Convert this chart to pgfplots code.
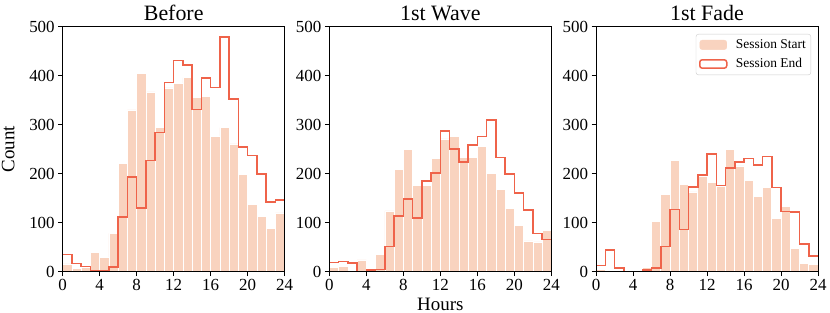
\documentclass[border=0pt]{standalone}
\usepackage{fontspec}
\setmainfont{Liberation Serif}
\usepackage{pgfplots}
\usepackage{pgfplotstable}
\pgfplotsset{compat=1.18}
\definecolor{startc}{RGB}{249,211,191}
\definecolor{endc}{RGB}{239,99,74}

% columns: hour, session start count, session end count (last row repeats bin 23 to close the step)
\pgfplotstableread{
h s e
0 16 35
1 6 17
2 9 11
3 40 1
4 29 1
5 78 10
6 221 112
7 330 193
8 405 130
9 367 227
10 295 284
11 375 386
12 385 431
13 396 422
14 356 331
15 358 395
16 276 376
17 294 479
18 261 352
19 199 254
20 138 237
21 113 199
22 88 142
23 120 146
24 120 146
}\before
\pgfplotstableread{
h s e
0 8 19
1 10 21
2 3 18
3 24 0
4 4 3
5 36 4
6 124 51
7 208 114
8 250 148
9 176 110
10 176 185
11 231 201
12 271 287
13 276 250
14 234 224
15 233 259
16 255 276
17 201 310
18 168 233
19 129 199
20 95 161
21 63 126
22 61 78
23 85 66
24 85 66
}\wave
\pgfplotstableread{
h s e
0 4 13
1 0 44
2 0 8
3 0 0
4 1 0
5 9 3
6 102 8
7 158 51
8 227 127
9 178 86
10 163 173
11 194 197
12 182 240
13 175 176
14 250 212
15 216 224
16 187 231
17 154 218
18 172 235
19 109 172
20 134 123
21 48 122
22 17 57
23 15 32
24 15 32
}\fade

\pgfplotsset{
  hist/.style={
    scale only axis, width=222bp, height=245bp,
    anchor=south west,
    xmin=0, xmax=24, ymin=0, ymax=500,
    xtick={0,4,...,24}, ytick={0,100,...,500},
    tick align=outside, major tick length=4.5bp,
    xtick pos=bottom, ytick pos=left,
    axis line style={line width=0.9bp, black},
    every tick/.style={black, line width=0.9bp},
    tick label style={font=\fontsize{17}{20}\selectfont},
    /pgf/number format/assume math mode=true,
    every axis title/.style={font=\fontsize{22}{26}\selectfont, at={(axis description cs:0.5,1)}, anchor=base, yshift=6.5bp},
    axis on top,
  },
  sbar/.style={ybar interval, fill=startc, draw=white, line width=0.6bp, forget plot},
  eline/.style={const plot, endc, line width=1.5bp, forget plot},
}

\begin{document}
\begin{tikzpicture}
\useasboundingbox (0,0) rectangle (830bp,313bp);

\begin{axis}[hist, at={(62.7bp,41.3bp)}, title={Before},
  ylabel={Count},
  ylabel style={font=\fontsize{19}{22}\selectfont, at={(axis description cs:-0.245,0.5)}, anchor=center}]
\addplot[sbar] table[x=h, y=s] {\before};
\addplot[eline] table[x=h, y=e] {\before};
\end{axis}

\begin{axis}[hist, at={(329.3bp,41.3bp)}, title={1st Wave},
  xlabel={Hours},
  xlabel style={font=\fontsize{19}{22}\selectfont, at={(axis description cs:0.5,0)}, anchor=base, yshift=-38.5bp}]
\addplot[sbar] table[x=h, y=s] {\wave};
\addplot[eline] table[x=h, y=e] {\wave};
\end{axis}

\begin{axis}[hist, at={(596bp,41.3bp)}, title={1st Fade},
  legend style={at={(1,1)}, anchor=north east, xshift=-7bp, yshift=-7.3bp,
    draw=black!20, rounded corners=2.5bp, fill=white,
    font=\fontsize{13.5}{16}\selectfont, inner xsep=3bp, inner ysep=3.5bp,
    row sep=4.5bp, legend cell align=left}]
\addplot[sbar] table[x=h, y=s] {\fade};
\addplot[eline] table[x=h, y=e] {\fade};
\addlegendimage{legend image code/.code={\fill[startc] (0bp,-4.7bp) rectangle (27bp,4.7bp); \path (34bp,0bp);}}
\addlegendentry{Session Start}
\addlegendimage{legend image code/.code={\draw[endc, line width=1.5bp] (0bp,-4.2bp) rectangle (27bp,4.2bp); \path (34bp,0bp);}}
\addlegendentry{Session End}
\end{axis}
\end{tikzpicture}
\end{document}
